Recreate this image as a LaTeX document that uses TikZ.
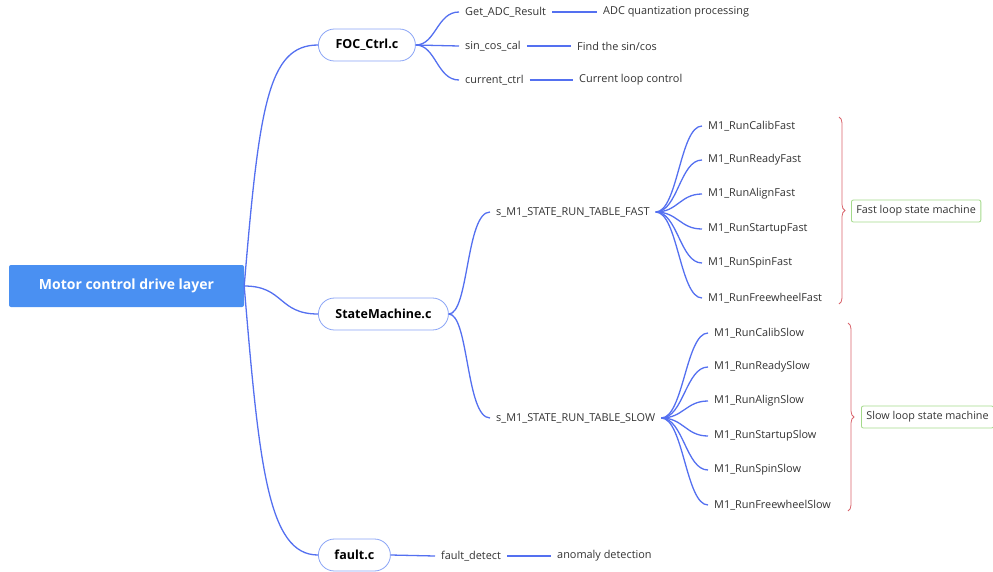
\documentclass[tikz,border=0pt]{standalone}
\usepackage{fontspec}
\setmainfont{Open Sans}
\usepackage{tikz}
\usetikzlibrary{decorations.pathreplacing}

\definecolor{linkblue}{HTML}{5470F0}
\definecolor{rootblue}{HTML}{4A90F2}
\definecolor{pillline}{HTML}{8AA4F6}
\definecolor{bracered}{HTML}{D9646C}
\definecolor{notegreen}{HTML}{A3D98A}
\definecolor{txtgray}{HTML}{333333}

\begin{document}
\begin{tikzpicture}[x=1pt, y=-1pt]
    \tikzstyle{root}=[fill=rootblue, rounded corners=2pt, text=white, font=\fontsize{14}{16}\selectfont\bfseries, minimum width=235pt, minimum height=42pt]
    \tikzstyle{file}=[draw=pillline, fill=white, rounded corners=16pt, line width=0.8pt, font=\fontsize{12.5}{14}\selectfont\bfseries, minimum height=32pt, text=black, anchor=west]
    \tikzstyle{item}=[font=\fontsize{10.9}{12}\selectfont, text=txtgray, inner xsep=6pt, inner ysep=2pt, anchor=west]
    \tikzstyle{link}=[draw=linkblue, line width=1.3pt]
    \tikzstyle{bracket}=[draw=bracered, line width=0.8pt, decorate, decoration={brace, amplitude=6pt}]
    \tikzstyle{note}=[draw=notegreen, rounded corners=2pt, line width=0.8pt, font=\fontsize{10.8}{12}\selectfont, text=txtgray, inner xsep=5pt, minimum height=22pt, anchor=west]

    \useasboundingbox (0,0) rectangle (993,571);

    % root and source files
    \node[root] (drive) at (126.5,286) {Motor control drive layer};
    \node[file, minimum width=97pt] (foc) at (318,45) {FOC\_Ctrl.c};
    \node[file, minimum width=130pt] (sm) at (318,314) {StateMachine.c};
    \node[file, minimum width=72pt] (fault) at (318,555) {fault.c};

    \draw[link] (drive.east) .. controls +(15,-180) and +(-50,0) .. (foc.west);
    \draw[link] (drive.east) .. controls +(40,0) and +(-40,0) .. (sm.west);
    \draw[link] (drive.east) .. controls +(15,180) and +(-50,0) .. (fault.west);

    % FOC_Ctrl.c
    \node[item] (adc) at (459,12) {Get\_ADC\_Result};
    \node[item] (adcq) at (597,12) {ADC quantization processing};
    \node[item] (sincos) at (459,46) {sin\_cos\_cal};
    \node[item] (findsc) at (571,46) {Find the sin/cos};
    \node[item] (curctrl) at (459,80) {current\_ctrl};
    \node[item] (curloop) at (573,80) {Current loop control};

    \draw[link] (foc.east) .. controls +(20,0) and +(-22,0) .. (adc.west);
    \draw[link] (foc.east) -- (sincos.west);
    \draw[link] (foc.east) .. controls +(20,0) and +(-22,0) .. (curctrl.west);
    \draw[link] (adc.east) -- (adcq.west);
    \draw[link] (sincos.east) -- (findsc.west);
    \draw[link] (curctrl.east) -- (curloop.west);

    % StateMachine.c
    \node[item] (fast) at (490,212) {s\_M1\_STATE\_RUN\_TABLE\_FAST};
    \node[item] (slow) at (490,418) {s\_M1\_STATE\_RUN\_TABLE\_SLOW};

    \draw[link] (sm.east) .. controls +(20,0) and +(-24,0) .. (fast.west);
    \draw[link] (sm.east) .. controls +(20,0) and +(-24,0) .. (slow.west);

    \node[item] (calibf) at (702,126) {M1\_RunCalibFast};
    \node[item] (readyf) at (702,160) {M1\_RunReadyFast};
    \node[item] (alignf) at (702,194) {M1\_RunAlignFast};
    \node[item] (startf) at (702,229) {M1\_RunStartupFast};
    \node[item] (spinf) at (702,263) {M1\_RunSpinFast};
    \node[item] (freef) at (702,298) {M1\_RunFreewheelFast};

    \draw[link] (fast.east) .. controls +(22,0) and +(-22,0) .. (calibf.west);
    \draw[link] (fast.east) .. controls +(22,0) and +(-22,0) .. (readyf.west);
    \draw[link] (fast.east) .. controls +(22,0) and +(-22,0) .. (alignf.west);
    \draw[link] (fast.east) .. controls +(22,0) and +(-22,0) .. (startf.west);
    \draw[link] (fast.east) .. controls +(22,0) and +(-22,0) .. (spinf.west);
    \draw[link] (fast.east) .. controls +(22,0) and +(-22,0) .. (freef.west);

    \node[item] (calibs) at (708,333) {M1\_RunCalibSlow};
    \node[item] (readys) at (708,367) {M1\_RunReadySlow};
    \node[item] (aligns) at (708,401) {M1\_RunAlignSlow};
    \node[item] (starts) at (708,436) {M1\_RunStartupSlow};
    \node[item] (spins) at (708,470) {M1\_RunSpinSlow};
    \node[item] (frees) at (708,505) {M1\_RunFreewheelSlow};

    \draw[link] (slow.east) .. controls +(22,0) and +(-22,0) .. (calibs.west);
    \draw[link] (slow.east) .. controls +(22,0) and +(-22,0) .. (readys.west);
    \draw[link] (slow.east) .. controls +(22,0) and +(-22,0) .. (aligns.west);
    \draw[link] (slow.east) .. controls +(22,0) and +(-22,0) .. (starts.west);
    \draw[link] (slow.east) .. controls +(22,0) and +(-22,0) .. (spins.west);
    \draw[link] (slow.east) .. controls +(22,0) and +(-22,0) .. (frees.west);

    % summaries
    \coordinate (fasttop) at (839,117);
    \coordinate (fastbot) at (839,304);
    \coordinate (slowtop) at (848,323);
    \coordinate (slowbot) at (848,511);
    \draw[bracket] (fasttop) -- (fastbot);
    \draw[bracket] (slowtop) -- (slowbot);
    \node[note] (fastnote) at (851,211) {Fast loop state machine};
    \node[note] (slownote) at (861,417) {Slow loop state machine};

    % fault.c
    \node[item] (fdetect) at (435,556) {fault\_detect};
    \node[item] (anomaly) at (551,556) {anomaly detection};

    \draw[link] (fault.east) -- (fdetect.west);
    \draw[link] (fdetect.east) -- (anomaly.west);
\end{tikzpicture}
\end{document}
